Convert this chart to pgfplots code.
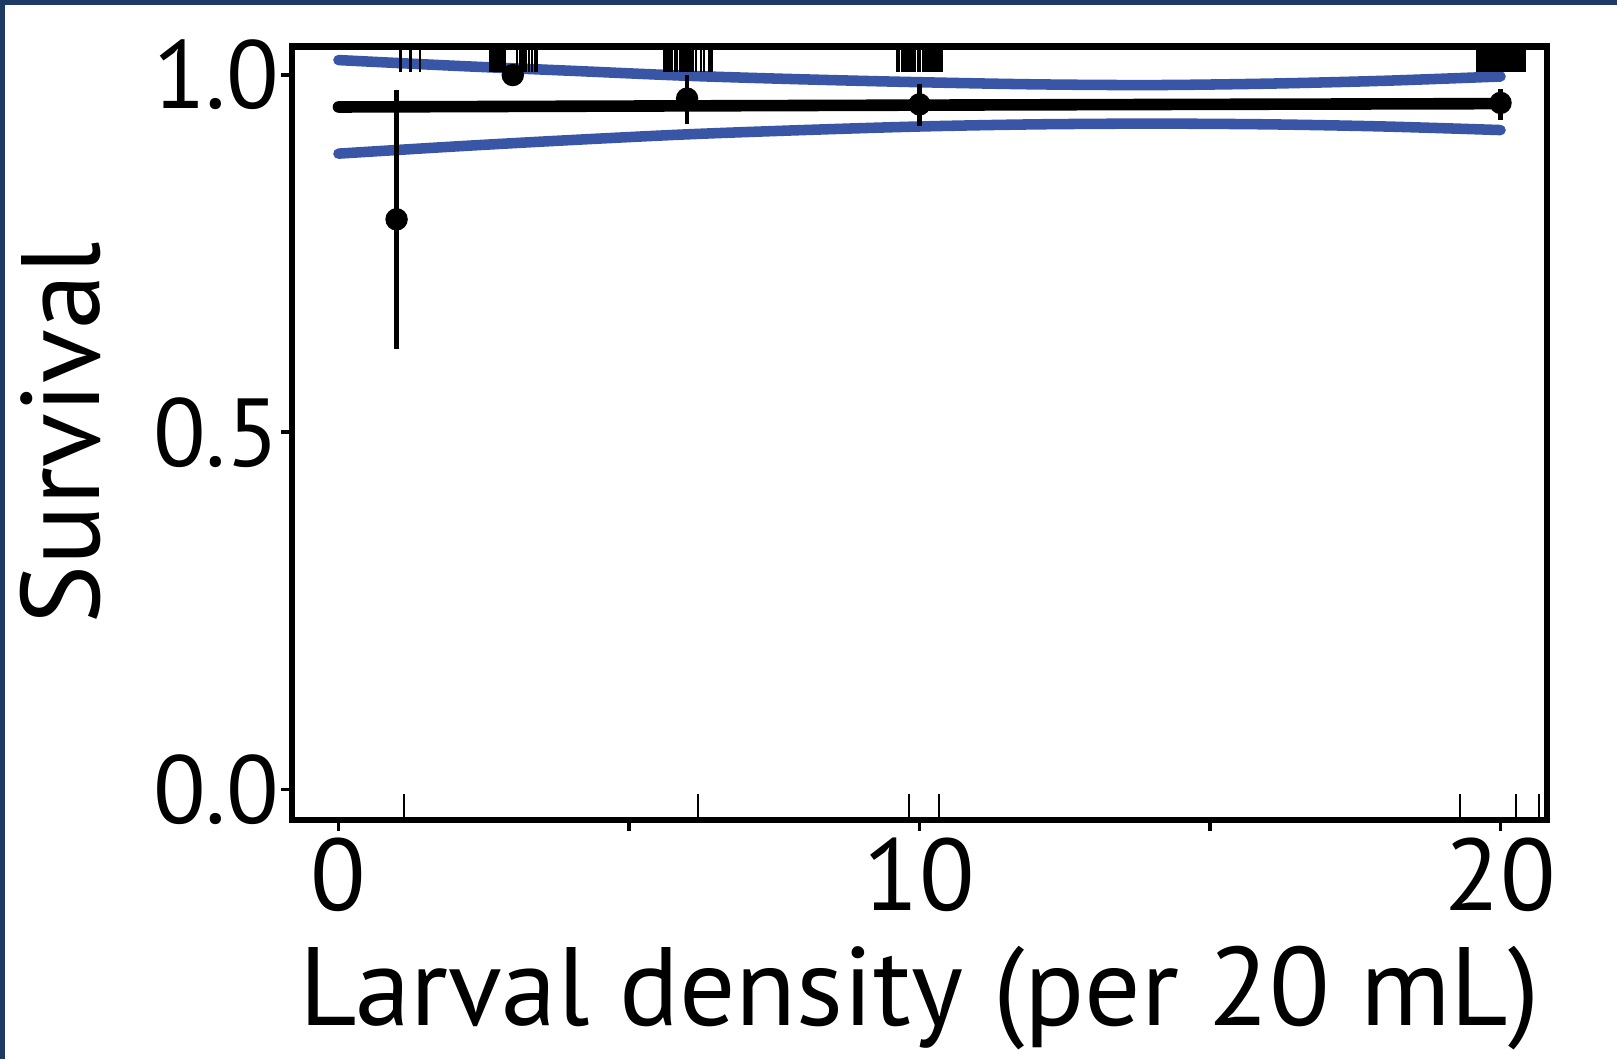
\documentclass[border=0pt]{standalone}
\usepackage{pgfplots}
\pgfplotsset{compat=1.18}
\usepackage{fontspec}
\setmainfont{PT Sans}
\definecolor{fitblue}{RGB}{57,85,165}
\definecolor{navy}{RGB}{28,58,99}
\begin{document}
\begin{tikzpicture}
\begin{axis}[
  at={(0,0)}, anchor=south west,
  scale only axis, width=125.5mm, height=77.35mm,
  xmin=-0.8, xmax=20.8, ymin=-0.043, ymax=1.040,
  axis line style={line width=1.8pt},
  tick align=outside,
  major tick length=1.1mm,
  tick style={line width=1.0pt, black},
  xtick={0,5,10,15,20}, xticklabels={0,,10,,20},
  ytick={0,0.5,1}, yticklabels={0.0,0.5,1.0},
  xtick pos=bottom, ytick pos=left,
  /pgf/number format/assume math mode=true,
  xticklabel style={font=\fontsize{29}{29}\selectfont, anchor=base, inner sep=0pt, yshift=-7.9mm},
  yticklabel style={font=\fontsize{27.5}{28}\selectfont, anchor=east, inner sep=0pt, xshift=-0.1mm},
  xlabel={Larval density (per 20 mL)},
  xlabel style={at={([yshift=-20.5mm]axis description cs:0.5,0)}, anchor=base, inner sep=0pt, font=\fontsize{31.7}{32}\selectfont},
  ylabel={Survival},
  ylabel style={at={([xshift=-19.2mm]axis description cs:0,0.5)}, anchor=base, inner sep=0pt, font=\fontsize{31.7}{32}\selectfont},
]
% confidence band (blue)
\addplot[fitblue, line width=3.0pt, line cap=round, smooth] coordinates {
 (0,1.021) (2,1.013) (4,1.006) (6,0.999) (8,0.994) (10,0.990) (12,0.987) (14,0.986) (16,0.988) (18,0.992) (20,0.998)};
\addplot[fitblue, line width=3.0pt, line cap=round, smooth] coordinates {
 (0,0.890) (2,0.900) (4,0.909) (6,0.917) (8,0.923) (10,0.928) (12,0.931) (14,0.932) (16,0.931) (18,0.928) (20,0.923)};
% fitted line
\addplot[black, line width=3.3pt, line cap=round, smooth] coordinates {
 (0,0.9553) (5,0.9566) (10,0.9579) (15,0.9590) (20,0.9600)};
% rug: survived (top)
\addplot[black, only marks, mark=|, mark size=1.28mm, mark options={line width=0.7pt}] coordinates {
 (1.07,1.022) (1.24,1.022) (1.40,1.022)
 (2.62,1.022) (2.67,1.022) (2.72,1.022) (2.77,1.022) (2.82,1.022) (2.87,1.022)
 (3.07,1.022) (3.12,1.022) (3.17,1.022) (3.22,1.022) (3.28,1.022) (3.33,1.022) (3.38,1.022) (3.42,1.022)
 (5.61,1.022) (5.65,1.022) (5.70,1.022) (5.74,1.022) (5.79,1.022) (5.83,1.022) (5.88,1.022) (5.92,1.022)
 (5.97,1.022) (6.01,1.022) (6.06,1.022) (6.10,1.022) (6.15,1.022) (6.24,1.022) (6.29,1.022) (6.38,1.022) (6.42,1.022)
 (9.61,1.022) (9.65,1.022) (9.70,1.022) (9.74,1.022) (9.79,1.022) (9.83,1.022) (9.88,1.022) (9.92,1.022)
 (9.97,1.022) (10.01,1.022) (10.06,1.022) (10.10,1.022) (10.15,1.022) (10.19,1.022) (10.24,1.022)
 (10.28,1.022) (10.33,1.022) (10.38,1.022)
 (19.60,1.022) (19.62,1.022) (19.64,1.022) (19.66,1.022) (19.68,1.022) (19.70,1.022) (19.72,1.022)
 (19.74,1.022) (19.76,1.022) (19.78,1.022) (19.80,1.022) (19.82,1.022) (19.84,1.022) (19.86,1.022)
 (19.88,1.022) (19.90,1.022) (19.92,1.022) (19.94,1.022) (19.96,1.022) (19.98,1.022) (20.00,1.022)
 (20.02,1.022) (20.04,1.022) (20.06,1.022) (20.08,1.022) (20.10,1.022) (20.12,1.022) (20.14,1.022)
 (20.16,1.022) (20.18,1.022) (20.20,1.022) (20.22,1.022) (20.24,1.022) (20.26,1.022) (20.28,1.022)
 (20.30,1.022) (20.32,1.022) (20.34,1.022) (20.36,1.022) (20.38,1.022) (20.40,1.022) (20.42,1.022)};
% rug: died (bottom)
\addplot[black, only marks, mark=|, mark size=1.28mm, mark options={line width=0.6pt}] coordinates {
 (1.12,-0.025) (6.18,-0.025) (9.82,-0.025) (10.34,-0.025) (19.30,-0.025) (20.26,-0.025) (20.66,-0.025)};
% observed means with error bars
\addplot[black, only marks, mark=*, mark size=1.05mm,
  error bars/.cd, y dir=both, y explicit, error mark=none,
  error bar style={line width=1.2pt}] coordinates {
 (1,0.798) += (0,0.181) -= (0,0.181)
 (3,1.000) += (0,0) -= (0,0)
 (6,0.967) += (0,0.033) -= (0,0.035)
 (10,0.959) += (0,0.029) -= (0,0.030)
 (20,0.961) += (0,0.0195) -= (0,0.0235)};
\end{axis}
\fill[navy] (-29.2mm,-23.9mm) rectangle (-28.7mm,82.0mm);
\fill[navy] (-29.2mm,81.5mm) rectangle (132.5mm,82.0mm);
\pgfresetboundingbox
\path (-29.2mm,-23.9mm) rectangle (132.5mm,82.0mm);
\end{tikzpicture}
\end{document}
